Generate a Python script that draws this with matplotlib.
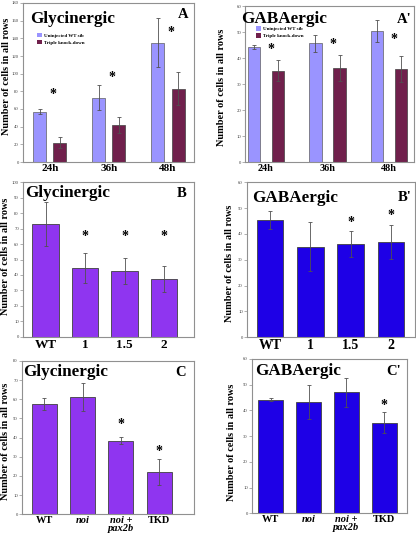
import matplotlib
matplotlib.use("Agg")
import matplotlib.pyplot as plt
from matplotlib.patches import Patch
import numpy as np

plt.rcParams['font.family'] = ['Liberation Serif', 'DejaVu Serif']

W, H = 416, 533

# ---------------- data ----------------
ages = ["24h", "36h", "48h"]
gly_wt = [57, 73, 135]
gly_wt_err = [3, 14, 28]
gly_tkd = [22, 42, 83]
gly_tkd_err = [6.5, 9, 19]
gly_age_stars = [76, 96, 147]

gaba_wt = [44.2, 45.7, 50.3]
gaba_wt_err = [0.7, 3.3, 4.2]
gaba_tkd = [35.2, 36.3, 35.8]
gaba_tkd_err = [4, 5, 5]
gaba_age_stars = [43.4, 45.3, 47.2]

doses = ["WT", "1", "1.5", "2"]
gly_dose = [73, 44.5, 42.5, 37.5]
gly_dose_err = [14, 10, 8.5, 8.5]
gly_dose_stars = [None, 65, 65, 65]

gaba_dose = [45.5, 35, 36.2, 36.8]
gaba_dose_err = [3.5, 9.5, 5, 6.5]
gaba_dose_stars = [None, None, 44.5, 47]

conds = ["WT", "noi", "noi +\npax2b", "TKD"]
gly_cond = [57.5, 61, 38.3, 22]
gly_cond_err = [3, 7.3, 1.8, 6.8]
gly_cond_stars = [None, None, 47, 33]

gaba_cond = [44.2, 43.2, 47, 35.2]
gaba_cond_err = [0.7, 6.5, 5.5, 4]
gaba_cond_stars = [None, None, None, 42]

legend_labels = ["Uninjected WT sib", "Triple knock-down"]

# ---------------- style ----------------
C_WT = '#9A94FF'
C_TKD = '#70204C'
C_PURP = '#8F35F0'
C_BLUE = '#1E00E6'
SPINE = '#909090'
ERR = '#505050'

fig = plt.figure(figsize=(W / 100, H / 100), dpi=100)


def px_axes(l, t, r, b):
    ax = fig.add_axes([l / W, 1 - b / H, (r - l) / W, (b - t) / H])
    for s in ax.spines.values():
        s.set_color(SPINE)
        s.set_linewidth(0.8)
    ax.tick_params(axis='y', labelsize=3.4, length=2, width=0.5, color=SPINE,
                   labelcolor='#404040', pad=0.8)
    ax.tick_params(axis='x', length=0, pad=1.5)
    return ax


def ftext(x, y, s, **kw):
    fig.text(x / W, 1 - y / H, s, **kw)


legend_anchor = {}


def age_panel(ax, wt, wte, tkd, tkde, stars, ylim, step, xlim, off, width, xfs):
    x = np.arange(len(ages))
    ax.bar(x - off, wt, width, color=C_WT, edgecolor='#606060', linewidth=0.5,
           yerr=wte, error_kw=dict(ecolor=ERR, elinewidth=0.6, capsize=1.5, capthick=0.6))
    ax.bar(x + off, tkd, width, color=C_TKD, edgecolor='#404040', linewidth=0.5,
           yerr=tkde, error_kw=dict(ecolor=ERR, elinewidth=0.6, capsize=1.5, capthick=0.6))
    for xi, s in zip(x, stars):
        ax.text(xi + off - width * 0.55, s, '*', ha='center', va='center',
                fontsize=10, fontweight='bold')
    ax.set_ylim(*ylim)
    ax.set_yticks(np.arange(ylim[0], ylim[1] + 0.1, step))
    ax.set_xlim(*xlim)
    ax.set_xticks(x)
    ax.set_xticklabels(ages, fontsize=xfs, fontweight='bold')
    ax.legend([Patch(facecolor=C_WT, edgecolor='none'), Patch(facecolor=C_TKD, edgecolor='none')],
              legend_labels, frameon=False, loc='upper left',
              prop=dict(size=3.6, weight='bold'),
              handlelength=1.0, handleheight=1.0, handletextpad=0.4,
              labelspacing=0.35, borderpad=0, borderaxespad=0,
              bbox_to_anchor=legend_anchor[ax])


def single_panel(ax, cats, vals, errs, stars, color, ylim, step, xlim, width, xfs, italic=()):
    x = np.arange(len(cats))
    ax.bar(x, vals, width, color=color, edgecolor='#404040', linewidth=0.6,
           yerr=errs, error_kw=dict(ecolor=ERR, elinewidth=0.6, capsize=1.5, capthick=0.6))
    for xi, s in zip(x, stars):
        if s is not None:
            ax.text(xi, s, '*', ha='center', va='center', fontsize=10, fontweight='bold')
    ax.set_ylim(*ylim)
    ax.set_yticks(np.arange(ylim[0], ylim[1] + 0.1, step))
    ax.set_xlim(*xlim)
    ax.set_xticks(x)
    labs = ax.set_xticklabels(cats, fontsize=xfs, fontweight='bold', linespacing=0.8, va='top')
    for i in italic:
        labs[i].set_fontstyle('italic')


axA = px_axes(22.7, 3, 194, 162)
legend_anchor[axA] = ((37 - 22.7) / (194 - 22.7), (162 - 33) / 159)
age_panel(axA, gly_wt, gly_wt_err, gly_tkd, gly_tkd_err, gly_age_stars,
          (0, 180), 20, (-0.46, 2.44), 0.17, 0.22, 8)

axA2 = px_axes(245, 6, 414.3, 162.3)
legend_anchor[axA2] = ((256 - 245) / (414.3 - 245), (162.3 - 26.5) / 156.3)
age_panel(axA2, gaba_wt, gaba_wt_err, gaba_tkd, gaba_tkd_err, gaba_age_stars,
          (0, 60), 10, (-0.34, 2.41), 0.195, 0.2, 7.3)

axB = px_axes(22.7, 182.3, 194, 336.7)
single_panel(axB, doses, gly_dose, gly_dose_err, gly_dose_stars, C_PURP,
             (0, 100), 10, (-0.58, 3.76), 0.68, 9.5)

axB2 = px_axes(246.7, 182.3, 415, 337.3)
single_panel(axB2, doses, gaba_dose, gaba_dose_err, gaba_dose_stars, C_BLUE,
             (0, 60), 10, (-0.58, 3.6), 0.66, 10)

axC = px_axes(21.7, 361, 194, 514.3)
single_panel(axC, conds, gly_cond, gly_cond_err, gly_cond_stars, C_PURP,
             (0, 80), 10, (-0.59, 3.91), 0.65, 7.5, italic=(1, 2))

axC2 = px_axes(251.7, 359, 406.7, 513.3)
single_panel(axC2, conds, gaba_cond, gaba_cond_err, gaba_cond_stars, C_BLUE,
             (0, 60), 10, (-0.51, 3.6), 0.66, 7.5, italic=(1, 2))

# ---------------- titles / panel letters ----------------
TFS = 12.3
LFS = 10.5
ftext(30, 22.7, "Glycinergic", fontsize=TFS, fontweight='bold', va='baseline')
ftext(178, 18, "A", fontsize=LFS, fontweight='bold', va='baseline')
ftext(241, 23, "GABAergic", fontsize=TFS, fontweight='bold', va='baseline')
ftext(397, 23, "A'", fontsize=LFS, fontweight='bold', va='baseline')
ftext(25, 196.7, "Glycinergic", fontsize=TFS, fontweight='bold', va='baseline')
ftext(176.7, 197, "B", fontsize=LFS, fontweight='bold', va='baseline')
ftext(251.7, 201.7, "GABAergic", fontsize=TFS, fontweight='bold', va='baseline')
ftext(397.7, 201, "B'", fontsize=LFS, fontweight='bold', va='baseline')
ftext(23, 376, "Glycinergic", fontsize=TFS, fontweight='bold', va='baseline')
ftext(175.7, 376, "C", fontsize=LFS, fontweight='bold', va='baseline')
ftext(255, 375, "GABAergic", fontsize=TFS, fontweight='bold', va='baseline')
ftext(386.7, 375, "C'", fontsize=LFS, fontweight='bold', va='baseline')

# ---------------- y labels ----------------
YL = "Number of cells in all rows"
YFS = 7.4
for (x, y) in [(7, 76.7), (222, 87), (5.5, 256), (229, 263.5), (6, 441), (231, 442)]:
    ftext(x, y, YL, fontsize=YFS, fontweight='bold', rotation=90, ha='center', va='center')

fig.savefig("out.png", dpi=100)
